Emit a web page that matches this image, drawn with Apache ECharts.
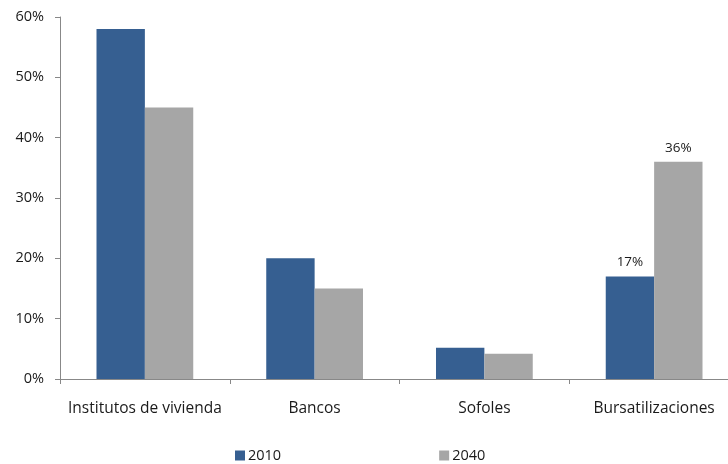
<!DOCTYPE html>
<html><head><meta charset="utf-8">
<script src="https://cdn.jsdelivr.net/npm/echarts@6/dist/echarts.min.js"></script>
<style>html,body{margin:0;padding:0;background:#fff;overflow:hidden;width:728px;height:464px}#c{width:742px;height:464px}</style>
</head><body><div id="c"></div>
<script>
const categories = ["Institutos de vivienda", "Bancos", "Sofoles", "Bursatilizaciones"];
const seriesNames = ["2010", "2040"];
const values2010 = [58, 20, 5.2, 17];
const values2040 = [45, 15, 4.2, 36];
const labelled = [false, false, false, true];
const yTicks = [0, 10, 20, 30, 40, 50, 60];

const font = '"Open Sans", "Noto Sans", sans-serif';
const chart = echarts.init(document.getElementById('c'), null, {renderer: 'canvas'});
function mk(vals) {
  return vals.map((v, i) => labelled[i] ? {value: v, label: {show: true}} : {value: v});
}
chart.setOption({
  animation: false,
  textStyle: {fontFamily: font},
  grid: {left: 60, width: 679, top: 17, height: 362, containLabel: false},
  legend: {
    top: 443, left: 230, itemGap: 158, itemWidth: 10, itemHeight: 10,
    icon: 'rect',
    textStyle: {fontFamily: font, fontSize: 14.5, color: '#1a1a1a', padding: [0, 0, 0, -2]},
    data: seriesNames
  },
  xAxis: {
    type: 'category', data: categories,
    axisLine: {lineStyle: {color: '#888', width: 1}},
    axisTick: {show: true, length: 5, lineStyle: {color: '#888'}},
    axisLabel: {interval: 0, fontFamily: font, fontSize: 15.5, color: '#1a1a1a', margin: 22}
  },
  yAxis: {
    type: 'value', min: 0, max: 60, interval: 10,
    splitLine: {show: false},
    axisLine: {show: true, lineStyle: {color: '#888', width: 1}},
    axisTick: {show: true, length: 5, lineStyle: {color: '#888'}},
    axisLabel: {fontFamily: font, fontSize: 14.5, color: '#1a1a1a', margin: 16, formatter: v => v + '%'}
  },
  series: [
    {name: seriesNames[0], type: 'bar', data: mk(values2010), barGap: '0%', barCategoryGap: '43%',
     itemStyle: {color: '#365F91'},
     label: {show: false, position: 'top', distance: 7, fontFamily: font, fontSize: 13.5, color: '#1a1a1a', formatter: p => Math.round(p.value) + '%'}},
    {name: seriesNames[1], type: 'bar', data: mk(values2040), barGap: '0%', barCategoryGap: '43%',
     itemStyle: {color: '#A6A6A6'},
     label: {show: false, position: 'top', distance: 7, fontFamily: font, fontSize: 13.5, color: '#1a1a1a', formatter: p => Math.round(p.value) + '%'}}
  ]
});
</script></body></html>
